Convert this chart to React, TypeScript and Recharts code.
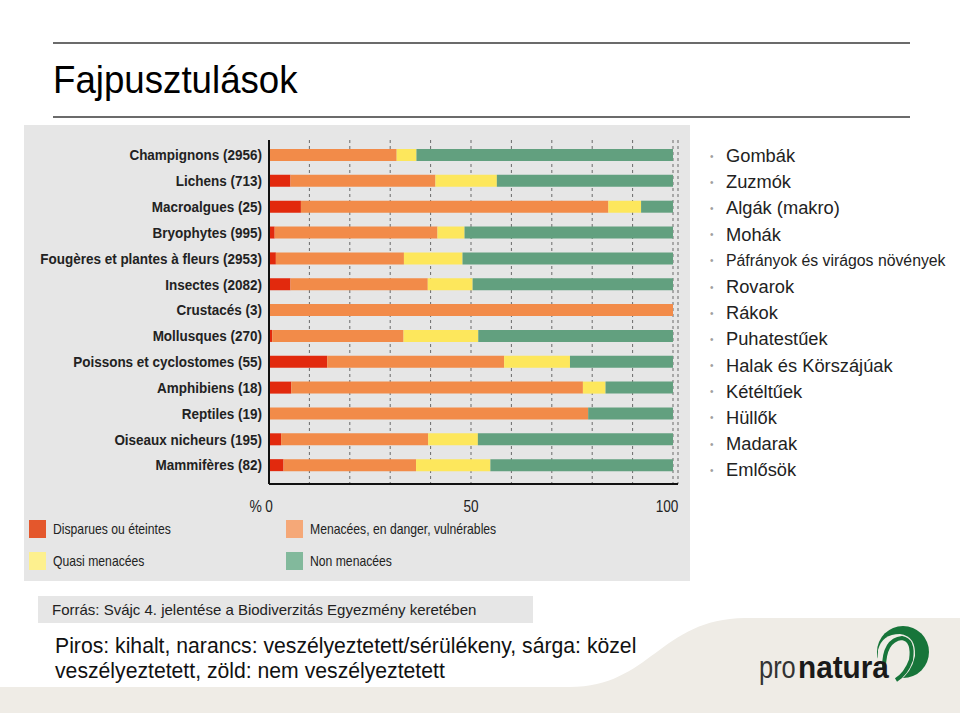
import { BarChart, Bar, XAxis, YAxis, CartesianGrid, Legend } from 'recharts';

const categories = [
  'Champignons (2956)',
  'Lichens (713)',
  'Macroalgues (25)',
  'Bryophytes (995)',
  'Fougères et plantes à fleurs (2953)',
  'Insectes (2082)',
  'Crustacés (3)',
  'Mollusques (270)',
  'Poissons et cyclostomes (55)',
  'Amphibiens (18)',
  'Reptiles (19)',
  'Oiseaux nicheurs (195)',
  'Mammifères (82)',
];

const extinct = [0, 5.3, 7.9, 1.4, 1.7, 5.3, 0, 0.8, 14.4, 5.5, 0, 3.0, 3.6];
const threatened = [31.6, 35.9, 76.1, 40.3, 31.7, 34.0, 100, 32.5, 43.8, 72.2, 79.0, 36.4, 32.8];
const nearThreatened = [4.9, 15.2, 8.1, 6.7, 14.5, 11.1, 0, 18.5, 16.3, 5.6, 0, 12.3, 18.4];
const notThreatened = [63.5, 43.6, 7.9, 51.6, 52.1, 49.6, 0, 48.2, 25.5, 16.7, 21.0, 48.3, 45.2];

const seriesNames = [
  'Disparues ou éteintes',
  'Menacées, en danger, vulnérables',
  'Quasi menacées',
  'Non menacées',
];

const xTicks = [0, 10, 20, 30, 40, 50, 60, 70, 80, 90, 100];
const labeledTicks = [0, 50, 100];

const hungarianNames = [
  'Gombák',
  'Zuzmók',
  'Algák (makro)',
  'Mohák',
  'Páfrányok és virágos növények',
  'Rovarok',
  'Rákok',
  'Puhatestűek',
  'Halak és Körszájúak',
  'Kétéltűek',
  'Hüllők',
  'Madarak',
  'Emlősök',
];

const barColors = ['#e2290d', '#f28b49', '#fde75c', '#62a07f'];
const legendColors = ['#e4572c', '#f5a878', '#fdf08e', '#82b99c'];

const data = categories.map((name, i) => ({
  name,
  extinct: extinct[i],
  threatened: threatened[i],
  nearThreatened: nearThreatened[i],
  notThreatened: notThreatened[i],
}));

const keys = ['extinct', 'threatened', 'nearThreatened', 'notThreatened'];

const sans = '"Liberation Sans", Arial, sans-serif';

// the original uses a condensed face, so squeeze Liberation Sans horizontally
function YTick(props: any) {
  const { x, y, payload } = props;
  return (
    <text
      transform={`translate(${x + 1},${y}) scale(0.9,1)`}
      textAnchor="end"
      dy="0.36em"
      fontSize={15}
      fontWeight={700}
      fill="#222"
      fontFamily={sans}
    >
      {payload.value}
    </text>
  );
}

function XTick(props: any) {
  const { x, y, payload } = props;
  if (!labeledTicks.includes(payload.value)) return null;
  const tx = payload.value === 100 ? x - 6 : x;
  return (
    <g>
      {payload.value === 0 && (
        <text transform={`translate(${x - 7},${y + 20}) scale(0.82,1)`} textAnchor="end" fontSize={17} fill="#222" fontFamily={sans}>
          %
        </text>
      )}
      <text transform={`translate(${tx},${y + 20}) scale(0.8,1)`} textAnchor="middle" fontSize={17} fill="#222" fontFamily={sans}>
        {payload.value}
      </text>
    </g>
  );
}

function LegendBox() {
  const pos = [
    { left: 5, top: 0 },
    { left: 262, top: 0 },
    { left: 5, top: 32 },
    { left: 262, top: 32 },
  ];
  return (
    <div style={{ position: 'relative', width: 666, height: 60 }}>
      {seriesNames.map((n, i) => (
        <div
          key={n}
          style={{
            position: 'absolute',
            left: pos[i].left,
            top: pos[i].top,
            display: 'flex',
            alignItems: 'center',
            height: 18,
            whiteSpace: 'nowrap',
          }}
        >
          <span style={{ width: 17, height: 18, background: legendColors[i], display: 'inline-block' }} />
          <span
            style={{
              marginLeft: 7,
              fontFamily: sans,
              fontSize: 14.5,
              color: '#222',
              display: 'inline-block',
              transform: 'scaleX(0.84)',
              transformOrigin: 'left center',
            }}
          >
            {n}
          </span>
        </div>
      ))}
    </div>
  );
}

function Chart() {
  return (
    <BarChart
      width={666}
      height={456}
      data={data}
      layout="vertical"
      margin={{ top: 15, right: 12, bottom: 67, left: 5 }}
      barSize={12}
      style={{ background: '#e6e6e6' }}
    >
      <CartesianGrid horizontal={false} stroke="#6a6a6a" strokeDasharray="3 3" />
      <XAxis
        type="number"
        domain={[0, 100]}
        ticks={xTicks}
        interval={0}
        padding={{ right: 5 }}
        tickLine={false}
        axisLine={{ stroke: '#111', strokeWidth: 2 }}
        tick={<XTick />}
        height={30}
      />
      <YAxis
        type="category"
        dataKey="name"
        width={240}
        padding={{ top: 2, bottom: 6 }}
        tickLine={false}
        axisLine={{ stroke: '#111', strokeWidth: 2 }}
        interval={0}
        tick={<YTick />}
      />
      <Legend
        layout="horizontal"
        verticalAlign="middle"
        align="center"
        content={() => <LegendBox />}
        wrapperStyle={{ left: 0, top: 395, width: 666 }}
      />
      {keys.map((k, i) => (
        <Bar key={k} dataKey={k} name={seriesNames[i]} stackId="a" fill={barColors[i]} isAnimationActive={false} />
      ))}
    </BarChart>
  );
}

export default function App() {
  return (
    <div
      style={{
        position: 'absolute',
        left: 0,
        top: 0,
        width: 960,
        height: 717,
        background: '#fff',
        overflow: 'hidden',
        fontFamily: sans,
      }}
    >
      <svg width={960} height={717} style={{ position: 'absolute', left: 0, top: 0 }}>
        <path d="M0 687 L570 687 C650 687 660 619 745 618 L960 618 L960 713 L0 713 Z" fill="#efece6" />
        <line x1={53} y1={43} x2={910} y2={43} stroke="#6b6b6b" strokeWidth={2} />
        <line x1={53} y1={117} x2={910} y2={117} stroke="#6b6b6b" strokeWidth={2} />
        <rect x={38} y={596} width={495} height={27} fill="#e6e6e6" />
        {/* pro natura logo */}
        <circle cx={903} cy={652} r={26} fill="#17753a" />
        <path d="M878 682 L878 650 Q882 634 900 634 Q916 636 915 656 Q912 672 898 682 Z" fill="#efece6" />
        <path d="M884 668 Q884 640 902 638 Q914 640 911 660 Q906 674 896 680" fill="none" stroke="#17753a" strokeWidth={4} />
        <text transform="translate(759,678) scale(0.82,1)" fontFamily={sans} fontSize={31} fill="#333">
          pro
        </text>
        <text transform="translate(798,678) scale(0.96,1)" fontFamily={sans} fontSize={31} fill="#1a1a1a" fontWeight={700}>
          natura
        </text>
      </svg>

      <div
        style={{
          position: 'absolute',
          left: 53,
          top: 58,
          fontSize: 38,
          color: '#000',
          lineHeight: '44px',
          transform: 'scaleX(0.965)',
          transformOrigin: 'left center',
        }}
      >
        Fajpusztulások
      </div>

      <div style={{ position: 'absolute', left: 24, top: 125 }}>
        <Chart />
      </div>

      <div style={{ position: 'absolute', left: 710, top: 143 }}>
        {hungarianNames.map((n, i) => (
          <div key={n} style={{ height: 26.2, display: 'flex', alignItems: 'center', whiteSpace: 'nowrap' }}>
            <span style={{ color: '#a0a0a0', fontSize: 10, width: 16 }}>•</span>
            <span style={{ fontSize: i === 4 ? 15.8 : 18.3, color: '#222' }}>{n}</span>
          </div>
        ))}
      </div>

      <div style={{ position: 'absolute', left: 52, top: 601, fontSize: 15, color: '#222', lineHeight: '17px', whiteSpace: 'nowrap' }}>
        Forrás: Svájc 4. jelentése a Biodiverzitás Egyezmény keretében
      </div>

      <div style={{ position: 'absolute', left: 55, top: 633, fontSize: 21.2, color: '#111', lineHeight: '25px', whiteSpace: 'nowrap' }}>
        Piros: kihalt, narancs: veszélyeztetett/sérülékeny, sárga: közel
        <br />
        veszélyeztetett, zöld: nem veszélyeztetett
      </div>
    </div>
  );
}
